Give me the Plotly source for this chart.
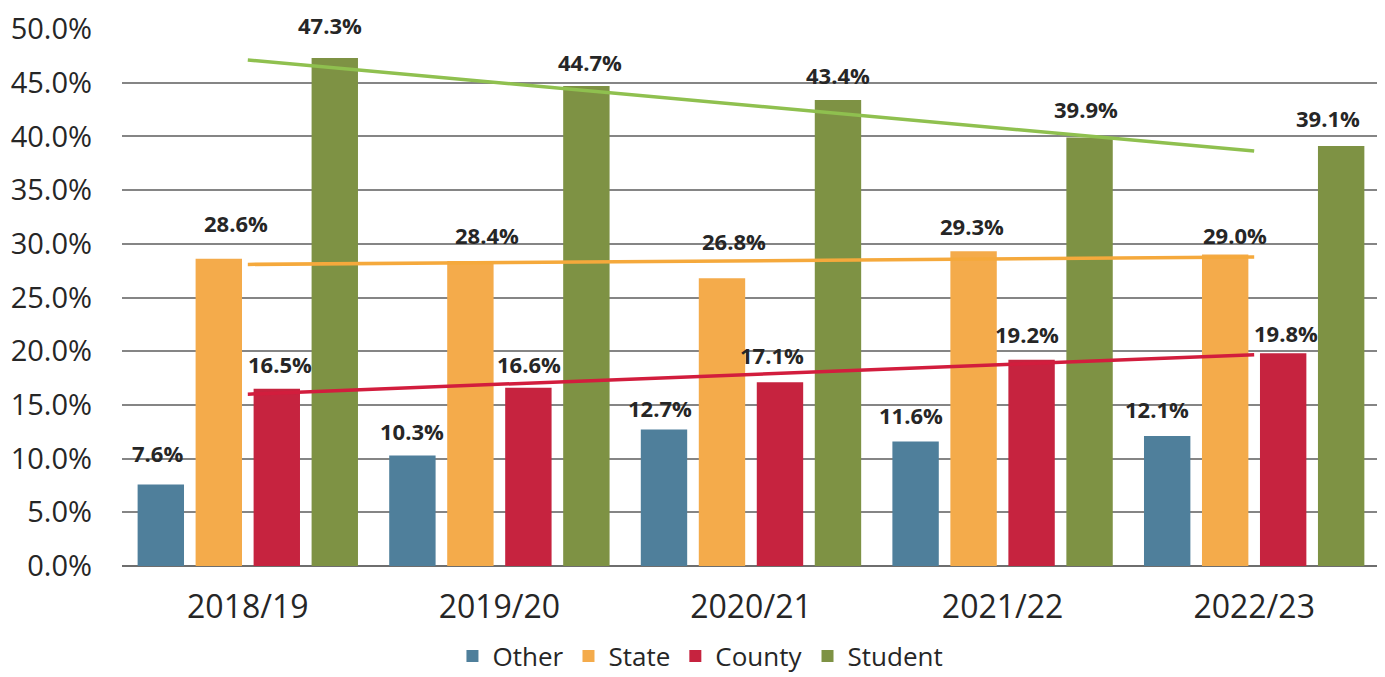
import numpy as np
import plotly.graph_objects as go

categories = ["2018/19", "2019/20", "2020/21", "2021/22", "2022/23"]
other = [7.6, 10.3, 12.7, 11.6, 12.1]
state = [28.6, 28.4, 26.8, 29.3, 29.0]
county = [16.5, 16.6, 17.1, 19.2, 19.8]
student = [47.3, 44.7, 43.4, 39.9, 39.1]

series = [
    ("Other", other, "#4f7f9b", None),
    ("State", state, "#f4ab4b", "#f5a93c"),
    ("County", county, "#c6233f", "#d21d3d"),
    ("Student", student, "#7e9244", "#8fc04f"),
]

# label placement nudges (pixels): horizontal shift and height above bar top
label_dx = {
    "Other": [-3, 0, -4, -5, -10],
    "State": [17, 17, 12, -2, 10],
    "County": [3, 1, -8, -5, 3],
    "Student": [-5, 4, 0, -4, -13],
}
label_dy = {
    "Other": [31, 24, 22, 26, 27],
    "State": [36, 26, 37, 25, 20],
    "County": [25, 24, 27, 26, 20],
    "Student": [33, 24, 25, 28, 28],
}

BARGAP = 0.078
GROUPGAP = 0.2

fig = go.Figure()
for name, vals, color, _ in series:
    fig.add_trace(go.Bar(
        name=name, x=categories, y=vals,
        marker=dict(color=color, line=dict(width=0)),
        hoverinfo="skip",
    ))

idx = np.arange(len(categories))
for name, vals, _, tcolor in series:
    if tcolor is None:
        continue
    slope, intercept = np.polyfit(idx, vals, 1)
    trend = slope * idx + intercept
    fig.add_trace(go.Scatter(
        x=categories, y=trend, mode="lines", line=dict(color=tcolor, width=3.5),
        showlegend=False, hoverinfo="skip", cliponaxis=False,
    ))

# data labels above each bar
nser = len(series)
slot = (1 - BARGAP) / nser
for k, (name, vals, _, _) in enumerate(series):
    for i, v in enumerate(vals):
        fig.add_annotation(
            x=i + (k - (nser - 1) / 2) * slot, y=v, xref="x", yref="y",
            text=f"<b>{v:.1f}%</b>", showarrow=False, yanchor="middle",
            xshift=label_dx[name][i], yshift=label_dy[name][i],
            font=dict(family="Open Sans", size=22, color="#262626"),
        )

fig.update_layout(
    width=1377, height=669,
    margin=dict(l=114, r=0, t=21, b=111, autoexpand=False),
    paper_bgcolor="white", plot_bgcolor="white",
    barmode="group", bargap=BARGAP, bargroupgap=GROUPGAP,
    font=dict(family="Open Sans", color="#262626"),
    showlegend=True,
    legend=dict(orientation="h", x=0.458, xanchor="center",
                yref="container", y=0.0314, yanchor="middle",
                font=dict(size=26, color="#262626"),
                itemwidth=30, traceorder="normal"),
    xaxis=dict(type="category", range=[-0.5, 4.52], showgrid=False,
               tickfont=dict(size=32, color="#262626"), ticks="", tickangle=0,
               ticklabelstandoff=19, showline=False, automargin=False),
    yaxis=dict(range=[0, 50], dtick=5, tickformat=".1f", ticksuffix="%",
               showgrid=True, gridcolor="#858585", gridwidth=1.5,
               zeroline=True, zerolinecolor="#6e6e6e", zerolinewidth=2,
               tickfont=dict(size=29, color="#262626"), ticklabelstandoff=29,
               ticklabeloverflow="allow", automargin=False),
)

fig.write_html("out.html")
